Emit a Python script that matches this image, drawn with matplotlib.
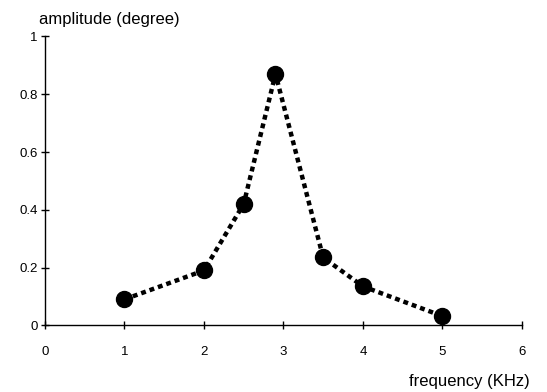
import matplotlib
matplotlib.use("Agg")
import matplotlib.pyplot as plt

plt.rcParams['font.family'] = ['Liberation Sans', 'DejaVu Sans']

freq = [1, 2, 2.5, 2.9, 3.5, 4, 5]
amp = [0.09, 0.19, 0.42, 0.87, 0.235, 0.135, 0.032]
xticks = [0, 1, 2, 3, 4, 5, 6]
yticks = [0, 0.2, 0.4, 0.6, 0.8, 1]
ytick_labels = ['0', '0.2', '0.4', '0.6', '0.8', '1']

fig = plt.figure(figsize=(5.47, 3.92), dpi=100)
ax = fig.add_axes([0.0823, 0.170, 0.8717, 0.737])

ax.plot(freq, amp, color='black', linewidth=3.2, linestyle=(0, (1.1, 0.9)),
        dash_capstyle='butt', marker='o', markersize=11.5, zorder=3)

ax.set_xlim(0, 6)
ax.set_ylim(0, 1)
ax.set_xticks(xticks)
ax.set_yticks(yticks)
ax.set_yticklabels(ytick_labels)
for s in ['top', 'right']:
    ax.spines[s].set_visible(False)
ax.spines['left'].set_linewidth(1)
ax.spines['bottom'].set_linewidth(1)
ax.tick_params(direction='inout', length=5.5, width=1, labelsize=9.5)
ax.tick_params(axis='x', pad=12)
ax.tick_params(axis='y', pad=2.5)

fig.text(0.199, 0.949, 'amplitude (degree)', ha='center', va='center', fontsize=12)
fig.text(0.968, 0.027, 'frequency (KHz)', ha='right', va='center', fontsize=12)

fig.savefig('out.png', dpi=100)
